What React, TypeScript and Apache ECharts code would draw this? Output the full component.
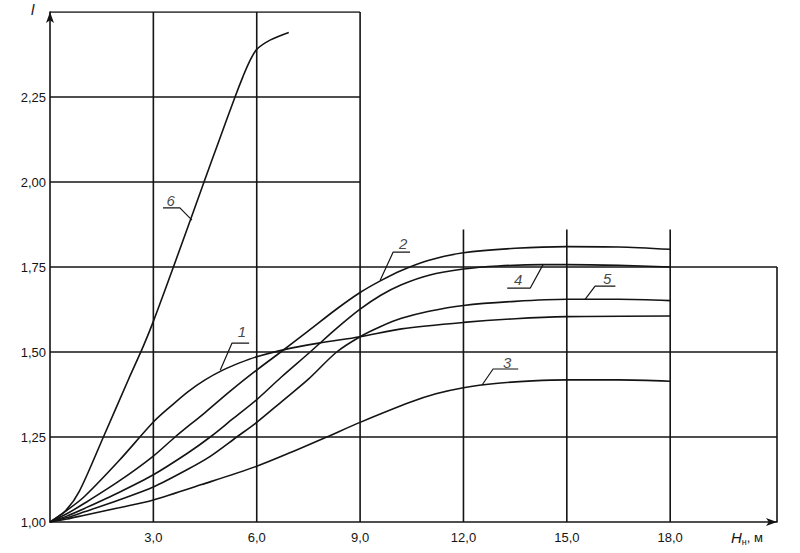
import React, { useEffect, useRef } from "react";
import * as echarts from "echarts";

// ---- axis ranges & ticks ----
const X_MIN = 0;
const X_MAX = 21.1;
const X_STEP = 3;
const Y_MIN = 1.0;
const Y_MAX = 2.5;
const Y_STEP = 0.25;
const xTickLabels = [3, 6, 9, 12, 15, 18];
const yTickLabels = [1.0, 1.25, 1.5, 1.75, 2.0, 2.25];

// ---- partial grid (as drawn in the original) ----
const gridFullY = [1.25, 1.5, 1.75]; // from 0 to right border
const gridUpperY = [2.0, 2.25, 2.5]; // from 0 to 9
const gridUpperEndX = 9;
const gridTallX = [3, 6, 9]; // full height
const gridShortX = [12, 15, 18]; // up to gridShortTop
const gridShortTop = 1.86;
const rightBorderX = 21.1;
const rightBorderTop = 1.75;

// ---- curves: [H_n, l] ----
const curve1 = [
  [0, 1], [0.5, 1.035], [1, 1.075], [2, 1.18], [3, 1.294], [3.5, 1.34], [4, 1.383],
  [4.5, 1.418], [5, 1.446], [5.5, 1.468], [6, 1.486], [6.8, 1.507], [7.8, 1.526],
  [9, 1.545], [10.2, 1.568], [12, 1.587], [13.5, 1.598], [15, 1.604], [18, 1.606],
];
const curve2 = [
  [0, 1], [0.5, 1.025], [1, 1.055], [2, 1.12], [3, 1.194], [3.63, 1.25], [4.5, 1.322],
  [5.23, 1.385], [6, 1.447], [6.7, 1.5], [7.5, 1.562], [8.3, 1.625], [9, 1.675],
  [9.6, 1.71], [10.2, 1.74], [11, 1.77], [12, 1.792], [13.5, 1.805], [15, 1.81],
  [16.5, 1.809], [18, 1.802],
];
const curve3 = [
  [0, 1], [0.5, 1.009], [1, 1.02], [2, 1.042], [3, 1.065], [4.4, 1.11], [6, 1.164],
  [7.0, 1.205], [8.03, 1.25], [9, 1.293], [10.45, 1.352], [11.2, 1.377], [12, 1.395],
  [13, 1.408], [14, 1.415], [15, 1.418], [16.5, 1.418], [18, 1.414],
];
const curve4 = [
  [0, 1], [0.5, 1.018], [1, 1.04], [2, 1.087], [3, 1.139], [4, 1.203], [4.65, 1.25],
  [5.3, 1.303], [6, 1.36], [6.7, 1.425], [7.55, 1.5], [8.3, 1.568], [9, 1.626],
  [9.6, 1.667], [10.2, 1.698], [11, 1.726], [12, 1.744], [13, 1.753], [14.3, 1.757],
  [15, 1.757], [16.5, 1.755], [18, 1.75],
];
const curve5 = [
  [0, 1], [0.5, 1.013], [1, 1.03], [2, 1.065], [3, 1.103], [4, 1.155], [4.65, 1.193],
  [5.42, 1.25], [6, 1.293], [6.7, 1.352], [7.5, 1.42], [8.32, 1.5], [9, 1.545],
  [9.6, 1.575], [10.2, 1.599], [11, 1.62], [12, 1.637], [13.5, 1.649], [15, 1.655],
  [16.5, 1.655], [18, 1.651],
];
const curve6 = [
  [0, 1], [0.45, 1.033], [0.85, 1.09], [1.55, 1.25], [2.28, 1.42], [2.7, 1.515],
  [3, 1.59], [3.6, 1.755], [4.47, 2.0], [4.9, 2.12], [5.37, 2.25], [5.6, 2.31],
  [5.78, 2.352], [6, 2.39], [6.4, 2.418], [6.93, 2.44],
];
const curves = [curve1, curve2, curve3, curve4, curve5, curve6];

// ---- curve labels: leader (curve point -> underline start -> underline end) and text point ----
const labelNames = ["1", "2", "3", "4", "5", "6"];
const leader1 = [[4.94, 1.446], [5.28, 1.526], [5.78, 1.526]];
const leader2 = [[9.58, 1.71], [9.96, 1.794], [10.45, 1.794]];
const leader3 = [[12.54, 1.403], [12.86, 1.45], [13.59, 1.45]];
const leader4 = [[14.31, 1.757], [13.94, 1.688], [13.27, 1.688]];
const leader5 = [[15.53, 1.655], [15.82, 1.694], [16.41, 1.694]];
const leader6 = [[4.12, 1.888], [3.77, 1.924], [3.28, 1.924]];
const leaders = [leader1, leader2, leader3, leader4, leader5, leader6];
const labelPoints = [
  [5.57, 1.559], [10.25, 1.818], [13.27, 1.468], [13.59, 1.712], [16.17, 1.715], [3.5, 1.947],
];

const INK = "#141414";

export default function App() {
  const ref = useRef<HTMLDivElement>(null);

  useEffect(() => {
    if (!ref.current) return;
    const chart = echarts.init(ref.current, null, { renderer: "svg" });

    const lineSeries = (data: number[][], width: number, z = 2) => ({
      type: "line",
      data,
      symbol: "none",
      silent: true,
      z,
      lineStyle: { color: INK, width },
    });

    const gridSeries: any[] = [];
    gridFullY.forEach((y) => gridSeries.push(lineSeries([[X_MIN, y], [rightBorderX, y]], 1.6, 1)));
    gridUpperY.forEach((y) => gridSeries.push(lineSeries([[X_MIN, y], [gridUpperEndX, y]], 1.6, 1)));
    gridTallX.forEach((x) => gridSeries.push(lineSeries([[x, Y_MIN], [x, Y_MAX]], 1.6, 1)));
    gridShortX.forEach((x) => gridSeries.push(lineSeries([[x, Y_MIN], [x, gridShortTop]], 1.6, 1)));
    gridSeries.push(lineSeries([[rightBorderX, Y_MIN], [rightBorderX, rightBorderTop]], 1.6, 1));

    const curveSeries = curves.map((c) => ({
      ...lineSeries(c, 1.6, 3),
      smooth: 0.3,
    }));

    const leaderSeries = leaders.map((l) => lineSeries(l, 1.2, 4));

    const labelSeries = {
      type: "scatter",
      silent: true,
      z: 5,
      symbolSize: 1,
      itemStyle: { color: "rgba(0,0,0,0)" },
      data: labelPoints.map((p, i) => ({ value: p, name: labelNames[i] })),
      label: {
        show: true,
        position: "inside",
        formatter: "{b}",
        color: INK,
        fontSize: 15,
        fontStyle: "italic",
        fontFamily: "Liberation Sans, Arial, sans-serif",
      },
    };

    chart.setOption({
      animation: false,
      backgroundColor: "#ffffff",
      grid: { left: 50, right: 23, top: 12, bottom: 31, containLabel: false },
      xAxis: {
        type: "value",
        min: X_MIN,
        max: X_MAX,
        interval: X_STEP,
        splitLine: { show: false },
        axisTick: { show: false },
        axisLine: {
          show: true,
          symbol: ["none", "arrow"],
          symbolSize: [6, 11],
          lineStyle: { color: INK, width: 1.6 },
        },
        axisLabel: {
          margin: 9,
          color: INK,
          fontSize: 13,
          fontFamily: "Liberation Sans, Arial, sans-serif",
          formatter: (v: number) =>
            xTickLabels.some((t) => Math.abs(t - v) < 1e-6) ? v.toFixed(1).replace(".", ",") : "",
        },
      },
      yAxis: {
        type: "value",
        min: Y_MIN,
        max: Y_MAX,
        interval: Y_STEP,
        splitLine: { show: false },
        axisTick: { show: false },
        axisLine: {
          show: true,
          symbol: ["none", "arrow"],
          symbolSize: [6, 11],
          lineStyle: { color: INK, width: 1.6 },
        },
        axisLabel: {
          margin: 4,
          color: INK,
          fontSize: 13,
          fontFamily: "Liberation Sans, Arial, sans-serif",
          formatter: (v: number) =>
            yTickLabels.some((t) => Math.abs(t - v) < 1e-6) ? v.toFixed(2).replace(".", ",") : "",
        },
      },
      graphic: [
        {
          type: "text",
          left: 31,
          top: 2,
          style: {
            text: "l",
            fill: INK,
            font: "italic 15px 'Liberation Sans', Arial, sans-serif",
          },
        },
        {
          type: "text",
          left: 731,
          top: 530,
          style: {
            text: "{i|H}{s|н}{n|, м}",
            fill: INK,
            rich: {
              i: { fontStyle: "italic", fontSize: 15, fontFamily: "Liberation Sans, Arial, sans-serif", fill: INK },
              s: { fontSize: 9, fontFamily: "Liberation Sans, Arial, sans-serif", fill: INK, padding: [8, 0, 0, 0] },
              n: { fontSize: 13, fontFamily: "Liberation Sans, Arial, sans-serif", fill: INK },
            },
          },
        },
      ],
      series: [...gridSeries, ...curveSeries, ...leaderSeries, labelSeries],
    });

    return () => chart.dispose();
  }, []);

  return (
    <div
      ref={ref}
      style={{ position: "absolute", left: 0, top: 0, width: 800, height: 553, background: "#fff" }}
    />
  );
}
